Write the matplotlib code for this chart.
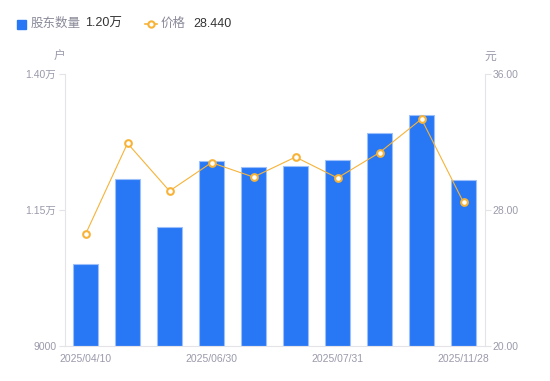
import matplotlib
matplotlib.use("Agg")
import matplotlib.pyplot as plt
from matplotlib.lines import Line2D
from matplotlib.patches import Rectangle

plt.rcParams['font.family'] = ['Liberation Sans', 'Noto Sans CJK SC', 'DejaVu Sans']

dates = ["2025/04/10", "2025/05/10", "2025/05/20", "2025/06/30", "2025/07/10",
         "2025/07/20", "2025/07/31", "2025/08/31", "2025/09/30", "2025/11/28"]
holders = [10500, 12060, 11180, 12400, 12290, 12300, 12420, 12920, 13240, 12050]
prices = [26.56, 31.92, 29.11, 30.78, 29.93, 31.11, 29.88, 31.37, 33.35, 28.44]
left_ticks = [9000, 11500, 14000]
left_labels = ["9000", "1.15万", "1.40万"]
right_ticks = [20, 28, 36]
right_labels = ["20.00", "28.00", "36.00"]
shown_idx = [0, 3, 6, 9]

W, H = 550, 381
fig = plt.figure(figsize=(W/100, H/100), dpi=100)
x0, x1 = 64.5, 484.5
y0, y1 = 345.7, 74
ax = fig.add_axes([x0/W, 1 - y0/H, (x1-x0)/W, (y0-y1)/H])
ax2 = ax.twinx()

gray = "#9a9aab"
axcol = "#e3e3e8"
blue = "#2878f5"
orange = "#f7b338"

xs = list(range(len(dates)))
ax.bar(xs, [h - 9000 for h in holders], bottom=9000, width=0.6, color=blue,
       edgecolor="#9cc0fa", linewidth=0.8, zorder=2)
ax.set_xlim(-0.5, len(dates) - 0.5)
ax.set_ylim(9000, 14000)
ax2.set_ylim(20, 36)
ax2.plot(xs, prices, color=orange, lw=0.8, marker='o', ms=4.8,
         mfc='white', mec=orange, mew=1.5, zorder=3)

for a in (ax, ax2):
    for s in a.spines.values():
        s.set_visible(False)
ax.spines['left'].set_visible(True)
ax.spines['left'].set_color(axcol)
ax.spines['bottom'].set_visible(True)
ax.spines['bottom'].set_color(axcol)
ax2.spines['right'].set_visible(True)
ax2.spines['right'].set_color(axcol)

ax.set_yticks(left_ticks)
ax.set_yticklabels(left_labels)
ax2.set_yticks(right_ticks)
ax2.set_yticklabels(right_labels)
ax.tick_params(axis='y', colors=axcol, labelcolor=gray, labelsize=7.5, length=4, width=0.8, pad=2)
ax2.tick_params(axis='y', colors=axcol, labelcolor=gray, labelsize=7.5, length=4, width=0.8, pad=2)
ax.set_xticks([xs[i] for i in shown_idx])
ax.set_xticklabels([dates[i] for i in shown_idx])
ax.tick_params(axis='x', length=0, labelcolor=gray, labelsize=7.5, pad=6)

fig.text(59/W, 1 - 57/H, "户", color=gray, fontsize=8.5, ha='center', va='center')
fig.text(490/W, 1 - 57/H, "元", color=gray, fontsize=8.5, ha='center', va='center')

# legend
fig.patches.append(Rectangle((17/W, 1 - 28.5/H), 9/W, 9/H, transform=fig.transFigure,
                             color=blue, figure=fig))
fig.text(31/W, 1 - 24/H, "股东数量", color="#8a8a99", fontsize=9, va='center')
fig.text(85/W, 1 - 24/H, "1.20万", color="#333333", fontsize=9, va='center')
fig.lines.append(Line2D([145/W, 157/W], [1 - 24/H, 1 - 24/H], transform=fig.transFigure,
                        color=orange, lw=1.2))
fig.lines.append(Line2D([151/W], [1 - 24/H], transform=fig.transFigure,
                        marker='o', ms=4.5, mfc='white', mec=orange, mew=1.5, lw=0))
fig.text(161/W, 1 - 24/H, "价格", color="#8a8a99", fontsize=9, va='center')
fig.text(193/W, 1 - 24/H, "28.440", color="#333333", fontsize=9, va='center')

fig.savefig("out.png", dpi=100)
